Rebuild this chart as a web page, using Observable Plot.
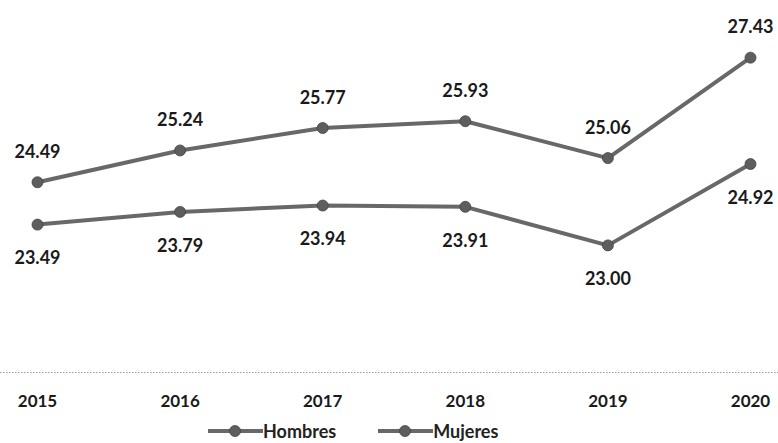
<!DOCTYPE html>
<html><head><meta charset="utf-8">
<script src="https://cdn.jsdelivr.net/npm/d3@7"></script>
<script src="https://cdn.jsdelivr.net/npm/@observablehq/plot@0.6"></script>
<style>
body{margin:0;background:#fff;font-family:Lato,"Open Sans",sans-serif;overflow:hidden;}
#legend{display:flex;justify-content:flex-start;height:22px;align-items:center;font-weight:bold;font-size:18px;line-height:20px;color:#222;padding-left:208px;}
.item{display:flex;align-items:center;}
</style>
</head><body>
<div id="chart"></div>
<div id="legend"></div>
<script>
const years = [2015, 2016, 2017, 2018, 2019, 2020];
const hombres = [24.49, 25.24, 25.77, 25.93, 25.06, 27.43];
const mujeres = [23.49, 23.79, 23.94, 23.91, 23.00, 24.92];
const seriesNames = ["Hombres", "Mujeres"];

const data = [];
years.forEach((y, i) => {
  data.push({year: y, value: hombres[i], series: seriesNames[0]});
  data.push({year: y, value: mujeres[i], series: seriesNames[1]});
});
const upperData = data.filter(d => d.series === "Hombres");
const lowerData = data.filter(d => d.series === "Mujeres");

const chart = Plot.plot({
  width: 778,
  height: 420,
  marginLeft: 0,
  marginRight: 0,
  marginTop: 33,
  marginBottom: 48,
  style: {fontFamily: "Lato, 'Open Sans', sans-serif", background: "#fff"},
  x: {domain: [2015, 2020], range: [37, 750], label: null},
  y: {domain: [20, 28], axis: null},
  marks: [
    Plot.ruleY([20], {stroke: "#999", strokeDasharray: "1.5,1.5", strokeWidth: 1.2}),
    Plot.line(data, {x: "year", y: "value", z: "series", stroke: "#686868", strokeWidth: 4}),
    Plot.dot(data, {x: "year", y: "value", r: 5.5, fill: "#5e5e5e", stroke: "#444", strokeWidth: 0.8}),
    Plot.text(upperData, {x: "year", y: "value", text: d => d.value.toFixed(2), dy: -30, fontSize: 18, fontWeight: "bold", fill: "#1a1a1a"}),
    Plot.text(lowerData, {x: "year", y: "value", text: d => d.value.toFixed(2), dy: 34, fontSize: 18, fontWeight: "bold", fill: "#1a1a1a"}),
    Plot.axisX({ticks: years, tickFormat: d => String(d), tickSize: 0, tickPadding: 22, fontSize: 17, fontWeight: "bold", fill: "#1a1a1a", label: null})
  ]
});
document.getElementById("chart").appendChild(chart);

const legend = document.getElementById("legend");
seriesNames.forEach((name, i) => {
  const it = document.createElement("div");
  it.className = "item";
  it.style.marginRight = i === 0 ? "42px" : "0";
  it.innerHTML = `<svg width="55" height="14"><line x1="0" y1="7" x2="55" y2="7" stroke="#686868" stroke-width="4"/><circle cx="27" cy="7" r="5.5" fill="#5e5e5e" stroke="#444" stroke-width="0.8"/></svg><span>${name}</span>`;
  legend.appendChild(it);
});
</script>
</body></html>
